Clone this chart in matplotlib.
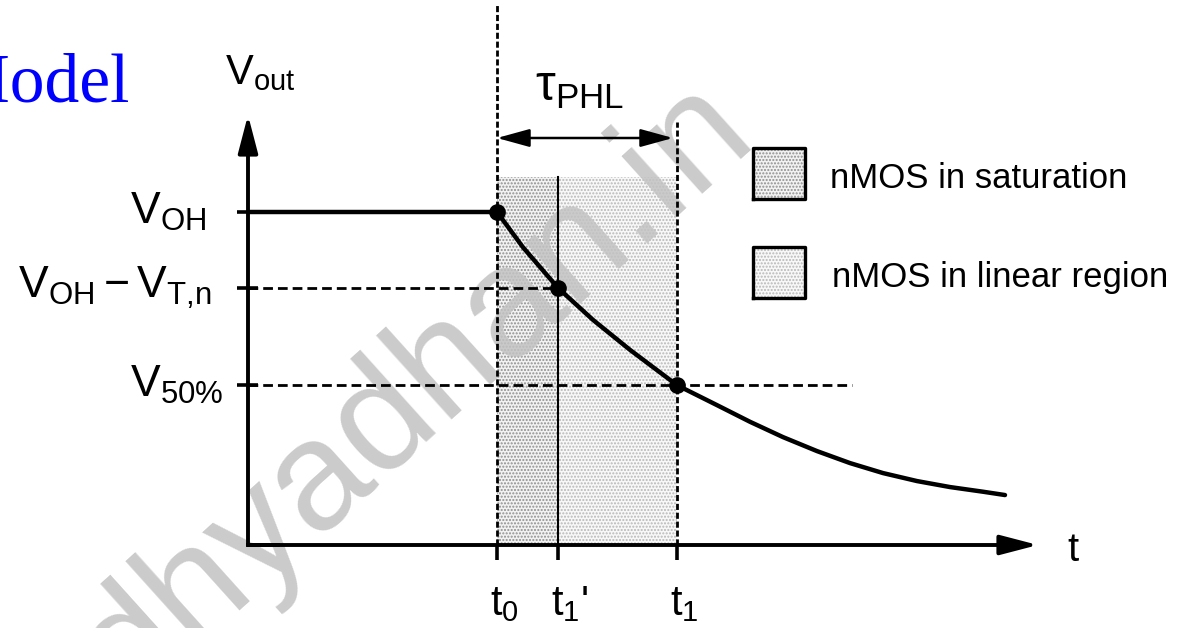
import numpy as np
import matplotlib
matplotlib.use("Agg")
import matplotlib.pyplot as plt

plt.rcParams['font.family'] = ['Liberation Sans', 'DejaVu Sans']
plt.rcParams['mathtext.fontset'] = 'custom'
plt.rcParams['mathtext.rm'] = 'Liberation Sans'
plt.rcParams['mathtext.it'] = 'Liberation Sans:italic'
plt.rcParams['hatch.linewidth'] = 1.0

# DATOS (t en unidades arbitrarias, V en voltios)
t_marks = [2.49, 3.10, 4.29]            # t0, t1', t1
t_labels = [r'$\mathrm{t_0}$', r"$\mathrm{t_1}$'", r'$\mathrm{t_1}$']
v_levels = [5.0, 3.86, 2.40]            # VOH, VOH-VTn, V50%
v_labels = [r'$\mathrm{V_{OH}}$', r'$\mathrm{V_{OH}-V_{T{,}n}}$', r'$\mathrm{V_{50\%}}$']

curve_t = [0.0, 2.49, 2.75, 3.10, 3.45, 3.82, 4.29, 4.69, 5.02, 5.35,
           5.69, 6.02, 6.35, 6.69, 7.02, 7.35, 7.57]
curve_v = [5.0, 5.0, 4.47, 3.86, 3.38, 2.93, 2.40, 2.10, 1.85, 1.62,
           1.41, 1.23, 1.08, 0.96, 0.87, 0.80, 0.75]

legend_labels = ['nMOS in saturation', 'nMOS in linear region']

# escala: 100 px por unidad de t, 66.6 px por voltio, origen en (248, 545) px
sx, sy = 100.0, 66.6
def P(x, y):
    return ((x - 248) / sx, (545 - y) / sy)

fig = plt.figure(figsize=(11.84, 6.28), dpi=100)
ax = fig.add_axes([0, 0, 1, 1])
ax.set_xlim(P(0, 0)[0], P(1184, 0)[0])
ax.set_ylim(P(0, 628)[1], P(0, 0)[1])
ax.axis('off')

t0, t1p, t1 = t_marks
shade_top = P(0, 177)[1]
shades = [('#f2f2f2', '#8e8e8e'), ('#f8f8f8', '#b8b8b8')]

# regiones sombreadas
for (xa, xb), (fc, ec) in zip([(t0, t1p), (t1p, t1)], shades):
    ax.fill_between([xa, xb], 0, shade_top, facecolor=fc, hatch='.....',
                    edgecolor=ec, linewidth=0, zorder=1)

# marca de agua
x, y = P(758, 138)
ax.text(x, y, 'dhyadhan.in', rotation=42, rotation_mode='anchor', ha='right',
        va='baseline', fontsize=112, color='#c2c2c2', alpha=0.85, zorder=2)

# ejes con flechas
arrow = dict(arrowstyle='-|>,head_length=2.3,head_width=0.6', lw=2.8, color='k',
             shrinkA=0, shrinkB=0, mutation_scale=10)
ax.annotate('', xy=(0, P(0, 115)[1]), xytext=(0, 0), arrowprops=arrow, zorder=5)
ax.annotate('', xy=(P(1038, 0)[0], 0), xytext=(0, 0), arrowprops=arrow, zorder=5)
ax.plot([0, 0.3], [0, 0], color='k', lw=2.8, solid_capstyle='projecting', zorder=5)

# ticks
ax.vlines(t_marks, P(0, 560)[1], 0, color='k', lw=2.6, zorder=5)
ax.hlines(v_levels, P(237, 0)[0], P(258, 0)[0], color='k', lw=2.6, zorder=5)

# lineas guia
ax.plot([t0, t0], [0, P(0, 5)[1]], color='k', lw=2.0, ls=(0, (2.2, 1.0)), zorder=3)
ax.plot([t1, t1], [0, P(0, 122)[1]], color='k', lw=2.0, ls=(0, (2.2, 1.0)), zorder=3)
ax.plot([t1p, t1p], [0, shade_top], color='k', lw=1.5, zorder=3)
ax.plot([0, t1p], [v_levels[1]] * 2, color='k', lw=2.0, ls=(0, (3.5, 1.8)), zorder=3)
ax.plot([0, P(852, 0)[0]], [v_levels[2]] * 2, color='k', lw=2.0, ls=(0, (3.5, 1.8)), zorder=3)

# curva Vout
ax.plot(curve_t, curve_v, color='k', lw=3.2, solid_capstyle='round', zorder=6)
ax.plot(t_marks, [curve_v[curve_t.index(t)] for t in t_marks], 'o', color='k',
        markersize=11, zorder=7)

# tau_PHL
ax.annotate('', xy=(t1 - 0.04, P(0, 138)[1]), xytext=(t0, P(0, 138)[1]),
            arrowprops=dict(arrowstyle='<|-|>,head_length=2.0,head_width=0.55',
                            lw=1.8, color='k', shrinkA=0, shrinkB=0, mutation_scale=10),
            zorder=5)
x, y = P(580, 88)
ax.text(x, y, r'$\mathrm{\tau_{PHL}}$', fontsize=36, ha='center', va='center')

# etiquetas
for lab, v, xl in zip(v_labels, v_levels, [130, 18, 130]):
    ax.text(P(xl, 0)[0], v, lab, fontsize=32, ha='left', va='center')
for lab, t in zip(t_labels, t_marks):
    ax.text(t - 0.07, P(0, 604)[1], lab, fontsize=30, ha='left', va='center')
x, y = P(225, 73)
ax.text(x, y, r'$\mathrm{V_{out}}$', fontsize=30, ha='left', va='center')
x, y = P(1073, 550)
ax.text(x, y, 't', fontsize=29, ha='center', va='center')

# leyenda
for i, (lab, (fc, ec)) in enumerate(zip(legend_labels, shades)):
    ytop = 148 + i * 99
    x0, y0 = P(753, ytop + 51)
    x1, y1 = P(805, ytop)
    ax.fill_between([x0, x1], y0, y1, facecolor=fc, hatch='.....', edgecolor=ec,
                    linewidth=0, zorder=3)
    ax.plot([x0, x1, x1, x0, x0], [y0, y0, y1, y1, y0], color='k', lw=2.4, zorder=4)
    tx, ty = P(830 + 2 * i, ytop + 31)
    ax.text(tx, ty, lab, fontsize=25, ha='left', va='center')

# titulo cortado en el borde (como en la imagen original)
x, y = P(-52, 102)
ax.text(x, y, 'Model', fontsize=50, family='Liberation Serif', color='#0000ff',
        ha='left', va='baseline')

plt.savefig('out.png', dpi=100)
